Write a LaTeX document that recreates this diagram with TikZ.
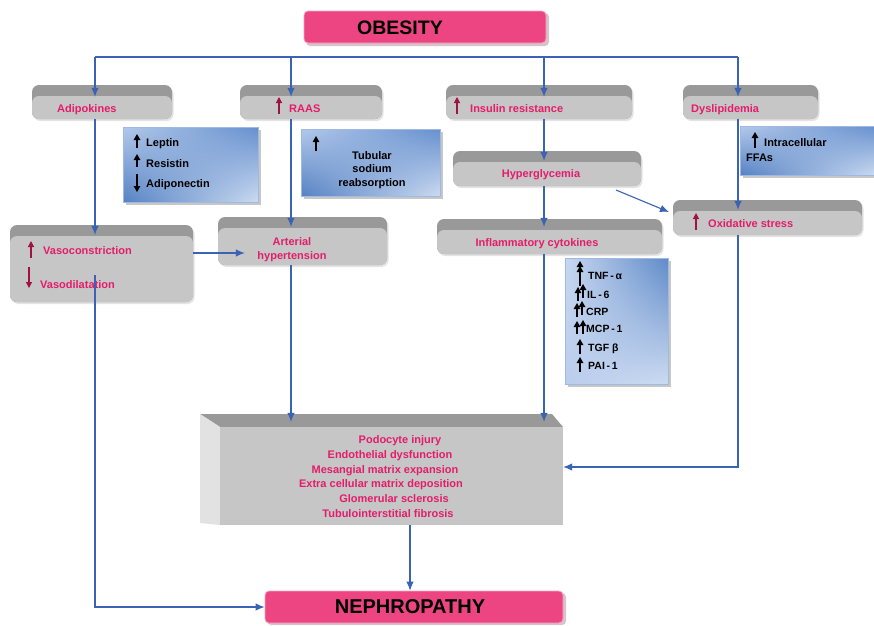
\documentclass[tikz,border=0pt]{standalone}
\usepackage{fontspec}
\setmainfont{Liberation Sans}
\usetikzlibrary{arrows.meta,fit,shadings}
\definecolor{pinkbox}{HTML}{EC4581}
\definecolor{pinkedge}{HTML}{F5A9C4}
\definecolor{pinkshadow}{HTML}{D7C3CB}
\definecolor{txtpink}{HTML}{E41C6B}
\definecolor{maroonar}{HTML}{A0123F}
\definecolor{lineblue}{HTML}{3A62B5}
\definecolor{gfront}{HTML}{C5C6C5}
\definecolor{gtop}{HTML}{989998}
\definecolor{gshadow}{HTML}{E4E4E4}
\definecolor{gleft}{HTML}{E2E2E2}
\definecolor{bUL}{HTML}{B3C9EA}
\definecolor{bUR}{HTML}{6690CE}
\definecolor{bLL}{HTML}{5581C3}
\definecolor{bLR}{HTML}{CCDBF1}
\definecolor{bEdge}{HTML}{9DB9E4}
\definecolor{cUL}{HTML}{C8D8F0}
\definecolor{cUR}{HTML}{5F8AC9}
\definecolor{cLL}{HTML}{BACDEC}
\definecolor{cLR}{HTML}{CCDBF1}
\tikzset{
  conn/.style={draw=lineblue, line width=1.1pt, -{Latex[length=9pt,width=7.5pt]}},
  plainline/.style={draw=lineblue, line width=1.1pt},
  lbl/.style={text=txtpink, font=\bfseries\fontsize{11}{13}\selectfont, inner sep=0pt},
  blk/.style={text=black, font=\bfseries\fontsize{11}{13}\selectfont, inner sep=0pt},
  cyt/.style={text=black, font=\bfseries\fontsize{10.5}{12}\selectfont, inner sep=0pt},
  upblk/.style={draw=black, line width=1.3pt, -{Triangle[length=6pt,width=6.5pt]}},
  upmar/.style={draw=maroonar, line width=1.2pt, -{Triangle[length=6pt,width=6pt]}},
  bshadeA/.style={upper left=bUL, upper right=bUR, lower left=bLL, lower right=bLR},
  bshadeB/.style={upper left=cUL, upper right=cUR, lower left=cLL, lower right=cLR},
}
\newcommand\mygbox[5]{%
  \fill[gshadow,rounded corners=7pt] (#2+1.5,#3+2) rectangle (#4+1.5,#5+2);
  \fill[gtop,rounded corners=7pt] (#2,#3) rectangle (#4,#5);
  \fill[gfront,rounded corners=7pt] (#2,#3+11) rectangle (#4,#5);
  \coordinate (#1-a) at (#2,#3);
  \coordinate (#1-b) at (#4,#5);
  \node[fit=(#1-a)(#1-b),inner sep=0pt] (#1) {};
}
\newcommand\mybbox[6]{%
  \fill[black!22] (#3+2.5,#4+2.5) rectangle (#5+2.5,#6+2.5);
  \shade[#1, draw=bEdge, line width=0.7pt] (#3,#4) rectangle (#5,#6);
  \coordinate (#2-a) at (#3,#4);
  \coordinate (#2-b) at (#5,#6);
  \node[fit=(#2-a)(#2-b),inner sep=0pt] (#2) {};
}
\begin{document}
\begin{tikzpicture}[x=1pt,y=-1pt]
\useasboundingbox (0,0) rectangle (874,625);
\fill[white] (0,0) rectangle (874,625);

% OBESITY
\fill[pinkshadow,rounded corners=4pt] (306,13) rectangle (549,46);
\node[fill=pinkbox, draw=pinkedge, line width=0.8pt, rounded corners=4pt, minimum width=242pt, minimum height=32pt, inner sep=0pt] (obesity) at (425,27) {};
\node[text=black, font=\bfseries\fontsize{19.5}{22}\selectfont, inner sep=0pt] (obesityt) at (400,28) {OBESITY};

% NEPHROPATHY
\fill[pinkshadow,rounded corners=4pt] (267,593) rectangle (566,625);
\node[fill=pinkbox, draw=pinkedge, line width=0.8pt, rounded corners=4pt, minimum width=298pt, minimum height=32pt, inner sep=0pt] (nephro) at (414,607) {};
\node[text=black, font=\bfseries\fontsize{20}{22}\selectfont, inner sep=0pt] (nephrot) at (410,607) {NEPHROPATHY};

% grey boxes
\mygbox{adipo}{32}{85}{172}{119}
\mygbox{raas}{240}{85}{382}{119}
\mygbox{insulin}{446}{85}{632}{119}
\mygbox{dysl}{683}{85}{818}{119}
\mygbox{vaso}{10}{225}{193}{302}
\mygbox{arter}{218}{217}{387}{265}
\mygbox{hyper}{453}{151}{641}{186}
\mygbox{inflam}{437}{219}{662}{254}
\mygbox{oxid}{673}{200}{862}{235}

% blue boxes
\mybbox{bshadeA}{lepbox}{123}{127}{258}{202}
\mybbox{bshadeA}{tubbox}{301}{129}{440}{196}
\mybbox{bshadeA}{ffabox}{740}{126}{876}{175}
\mybbox{bshadeB}{cytbox}{565}{258}{668}{384}

% big 3D box
\fill[gtop] (200,414) -- (552,414) -- (563,427) -- (220,427) -- cycle;
\fill[gleft] (200,414) -- (220,427) -- (220,525) -- (200,523) -- cycle;
\fill[gfront] (220,427) rectangle (563,525);
\coordinate (big-a) at (200,414);
\coordinate (big-b) at (563,525);
\node[fit=(big-a)(big-b),inner sep=0pt] (big) {};

% labels in grey boxes
\node[lbl, anchor=base west] (tadipo) at (57,112) {Adipokines};
\node[lbl, anchor=base west] (traas) at (289,112) {RAAS};
\draw[upmar] (279,114) -- (279,97);
\node[lbl, anchor=base west] (tins) at (470,112) {Insulin resistance};
\draw[upmar] (457,114) -- (457,97);
\node[lbl, anchor=base west] (tdysl) at (691,112) {Dyslipidemia};

\node[lbl, anchor=base west] (tvc) at (43,254) {Vasoconstriction};
\draw[upmar] (31,258) -- (31,241);
\node[lbl, anchor=base west] (tvd) at (40,288) {Vasodilatation};
\draw[upmar] (29,267) -- (29,288);

\node[lbl, anchor=base] (tart1) at (292,245) {Arterial};
\node[lbl, anchor=base] (tart2) at (292,259) {hypertension};
\node[lbl, anchor=base] (thyp) at (541,177) {Hyperglycemia};
\node[lbl, anchor=base] (tinf) at (537,246) {Inflammatory cytokines};
\node[lbl, anchor=base west] (tox) at (708,227) {Oxidative stress};
\draw[upmar] (696,230) -- (696,213);

% labels in blue boxes
\node[blk, anchor=base west] (tlep) at (146,146) {Leptin};
\draw[upblk] (137,148) -- (137,134);
\node[blk, anchor=base west] (tres) at (146,167) {Resistin};
\draw[upblk] (137,167) -- (137,154);
\node[blk, anchor=base west] (tadn) at (146,187) {Adiponectin};
\draw[upblk] (137,174) -- (137,192);

\draw[upblk] (316,151) -- (316,136);
\node[blk, anchor=base] (ttub1) at (372,159) {Tubular};
\node[blk, anchor=base] (ttub2) at (372,172) {sodium};
\node[blk, anchor=base] (ttub3) at (372,186) {reabsorption};

\draw[upblk] (755,148) -- (755,132);
\node[blk, anchor=base west] (tffa1) at (764,146) {Intracellular};
\node[blk, anchor=base west] (tffa2) at (746,161) {FFAs};

% cytokines
\draw[upblk] (580,286) -- (580,266);
\draw[upblk] (580,272) -- (580,261);
\node[cyt, anchor=base west] (ttnf) at (588,279) {TNF\,-\,α};
\draw[upblk] (578,301) -- (578,287);
\draw[upblk] (583,298) -- (583,284);
\node[cyt, anchor=base west] (til6) at (587,298) {IL\,-\,6};
\draw[upblk] (577,317) -- (577,303);
\draw[upblk] (582,315) -- (582,301);
\node[cyt, anchor=base west] (tcrp) at (586,315) {CRP};
\draw[upblk] (577,334) -- (577,321);
\draw[upblk] (583,334) -- (583,320);
\node[cyt, anchor=base west] (tmcp) at (586,332) {MCP\,-\,1};
\draw[upblk] (580,354) -- (580,339);
\node[cyt, anchor=base west] (ttgf) at (588,351) {TGF β};
\draw[upblk] (580,372) -- (580,357);
\node[cyt, anchor=base west] (tpai) at (588,369) {PAI\,-\,1};

% big box text
\node[lbl, anchor=base] (b1) at (400,443) {Podocyte injury};
\node[lbl, anchor=base] (b2) at (390,458) {Endothelial dysfunction};
\node[lbl, anchor=base] (b3) at (385,473) {Mesangial matrix expansion};
\node[lbl, anchor=base] (b4) at (381,487) {Extra cellular matrix deposition};
\node[lbl, anchor=base] (b5) at (394,502) {Glomerular sclerosis};
\node[lbl, anchor=base] (b6) at (388,517) {Tubulointerstitial fibrosis};

% connectors
\coordinate (bus) at (0,57);
\coordinate (cA) at (95,0);
\coordinate (cR) at (291,0);
\coordinate (cI) at (544,0);
\coordinate (cD) at (738,0);
\coordinate (cN) at (410,0);
\coordinate (rowOx) at (0,467);
\coordinate (rowVaso) at (0,253);
\coordinate (vasoOut) at (95,275);
\coordinate (hypOut) at (616,190);
\coordinate (oxIn) at (669,212);

\draw[plainline] (cA |- bus) -- (cD |- bus);
\draw[conn] (cA |- bus) -- ([yshift=-12pt]cA |- adipo.north);
\draw[conn] (cR |- bus) -- ([yshift=-12pt]cR |- raas.north);
\draw[conn] (cI |- bus) -- ([yshift=-12pt]cI |- insulin.north);
\draw[conn] (cD |- bus) -- ([yshift=-12pt]cD |- dysl.north);

\draw[conn] (cA |- adipo.south) -- ([yshift=-10pt]cA |- vaso.north);
\draw[conn] (cR |- raas.south) -- ([yshift=-10pt]cR |- arter.north);
\draw[conn] (cI |- insulin.south) -- ([yshift=-10pt]cI |- hyper.north);
\draw[conn] (cI |- hyper.south) -- ([yshift=-8pt]cI |- inflam.north);
\draw[conn] (cD |- dysl.south) -- ([yshift=-10pt]cD |- oxid.north);
\draw[conn] (hypOut) -- (oxIn);
\draw[conn] (vaso.east |- rowVaso) -- ([xshift=27pt]arter.west |- rowVaso);

\draw[conn] (cR |- arter.south) -- ([yshift=-8pt]cR |- big.north);
\draw[conn] (cI |- inflam.south) -- ([yshift=-8pt]cI |- big.north);
\draw[conn] (cD |- oxid.south) -- (cD |- rowOx) -- (big.east |- rowOx);
\draw[conn] (cN |- big.south) -- (cN |- nephro.north);
\draw[conn] (vasoOut) -- (cA |- nephro.west) -- (nephro.west);
\end{tikzpicture}
\end{document}
